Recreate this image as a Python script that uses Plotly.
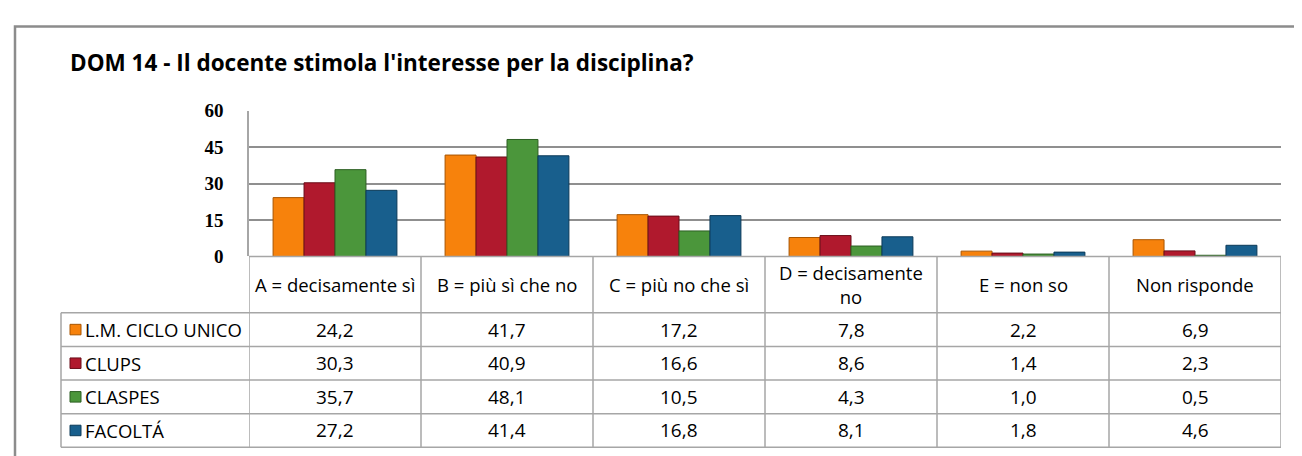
import plotly.graph_objects as go

W, H = 1302, 456

categories = ["A = decisamente sì", "B = più sì che no", "C = più no che sì",
              "D = decisamente no", "E = non so", "Non risponde"]
header_labels = ["A = decisamente sì", "B = più sì che no", "C = più no che sì",
                 "D = decisamente<br>no", "E = non so", "Non risponde"]

series_names = ["L.M. CICLO UNICO", "CLUPS", "CLASPES", "FACOLTÁ"]
lm_ciclo_unico = [24.2, 41.7, 17.2, 7.8, 2.2, 6.9]
clups = [30.3, 40.9, 16.6, 8.6, 1.4, 2.3]
claspes = [35.7, 48.1, 10.5, 4.3, 1.0, 0.5]
facolta = [27.2, 41.4, 16.8, 8.1, 1.8, 4.6]
series_values = [lm_ciclo_unico, clups, claspes, facolta]

y_ticks = [0, 15, 30, 45, 60]
title_text = "DOM 14 - Il docente stimola l'interesse per la disciplina?"

colors = ["#F7820C", "#B0192D", "#4B963B", "#185F8D"]
edge_colors = ["#A85500", "#6A0D19", "#2C5F22", "#0C3A58"]

TEXT_FONT = "Open Sans"

# pixel layout helpers
def px_x(x):
    return x / W

def px_y(y):
    return (H - y) / H

plot_left, plot_right = 241, 1273
plot_top, plot_bottom = 97, 250
header_bottom = 309
row_h = 35.25
table_bottom = header_bottom + row_h * len(series_names)
legend_left = 53
line_col = "#A6A6A6"

fig = go.Figure()
for name, vals, c, ec in zip(series_names, series_values, colors, edge_colors):
    fig.add_trace(go.Bar(
        x=categories, y=vals, name=name,
        marker=dict(color=c, line=dict(color=ec, width=1)),
        showlegend=False, hoverinfo="x+y+name",
    ))

shapes = []
annotations = []

# outer chart border
shapes.append(dict(type="rect", xref="paper", yref="paper",
                   x0=px_x(7), x1=px_x(1300), y0=px_y(470), y1=px_y(9),
                   line=dict(color="#8C8C8C", width=2.5), fillcolor="rgba(0,0,0,0)",
                   layer="above"))

# table: vertical lines at category boundaries (x axis scale)
for i in range(len(categories) + 1):
    shapes.append(dict(type="line", xref="x", yref="paper",
                       x0=i - 0.5, x1=i - 0.5,
                       y0=px_y(plot_bottom), y1=px_y(table_bottom),
                       line=dict(color=line_col, width=1.5)))
# header top line (axis baseline)
shapes.append(dict(type="line", xref="paper", yref="paper",
                   x0=px_x(plot_left), x1=px_x(plot_right),
                   y0=px_y(plot_bottom), y1=px_y(plot_bottom),
                   line=dict(color=line_col, width=1.5)))
# row lines
for r in range(len(series_names) + 1):
    yy = header_bottom + r * row_h
    shapes.append(dict(type="line", xref="paper", yref="paper",
                       x0=px_x(legend_left), x1=px_x(plot_right),
                       y0=px_y(yy), y1=px_y(yy),
                       line=dict(color=line_col, width=1.5)))
# legend column left line
shapes.append(dict(type="line", xref="paper", yref="paper",
                   x0=px_x(legend_left), x1=px_x(legend_left),
                   y0=px_y(header_bottom), y1=px_y(table_bottom),
                   line=dict(color=line_col, width=1.5)))

# header labels
for i, lab in enumerate(header_labels):
    annotations.append(dict(xref="x", yref="paper", x=i,
                            y=px_y((plot_bottom + header_bottom) / 2),
                            text=lab, showarrow=False,
                            font=dict(family=TEXT_FONT, size=18.5, color="#000000"),
                            xanchor="center", yanchor="middle"))

# rows: legend keys, names, values
for r, (name, vals) in enumerate(zip(series_names, series_values)):
    yc = header_bottom + r * row_h + row_h / 2
    shapes.append(dict(type="rect", xref="paper", yref="paper",
                       x0=px_x(62), x1=px_x(73), y0=px_y(yc + 5.5), y1=px_y(yc - 5.5),
                       fillcolor=colors[r], line=dict(color=edge_colors[r], width=1)))
    annotations.append(dict(xref="paper", yref="paper", x=px_x(75), y=px_y(yc),
                            text=name, showarrow=False, xanchor="left", yanchor="middle",
                            font=dict(family=TEXT_FONT, size=18.5, color="#000000")))
    for i, v in enumerate(vals):
        annotations.append(dict(xref="x", yref="paper", x=i, y=px_y(yc),
                                text=f"{v:.1f}".replace(".", ","), showarrow=False,
                                xanchor="center", yanchor="middle",
                                font=dict(family=TEXT_FONT, size=19, color="#000000")))

# title
annotations.append(dict(xref="paper", yref="paper", x=px_x(60), y=px_y(47),
                        text=title_text, showarrow=False, xanchor="left", yanchor="middle",
                        font=dict(family=TEXT_FONT, size=22.5, color="#000000", weight="bold")))

fig.update_layout(
    width=W, height=H,
    margin=dict(l=0, r=0, t=0, b=0),
    paper_bgcolor="white", plot_bgcolor="white",
    barmode="group", bargap=0.28, bargroupgap=0.0,
    shapes=shapes, annotations=annotations,
    xaxis=dict(domain=[px_x(plot_left), px_x(plot_right)], range=[-0.5, 5.5],
               showticklabels=False, showgrid=False, zeroline=False, showline=False,
               ticks=""),
    yaxis=dict(domain=[px_y(plot_bottom), px_y(plot_top)], range=[0, 60],
               tickvals=y_ticks, ticktext=[str(t) for t in y_ticks],
               showgrid=True, gridcolor="#8F8F8F", gridwidth=1.5,
               zeroline=False, showline=True, linecolor=line_col, linewidth=1.5,
               ticks="", ticklabelstandoff=20,
               tickfont=dict(family="Liberation Serif", size=19, color="#000000",
                             weight="bold")),
)

fig.write_html("out.html")
